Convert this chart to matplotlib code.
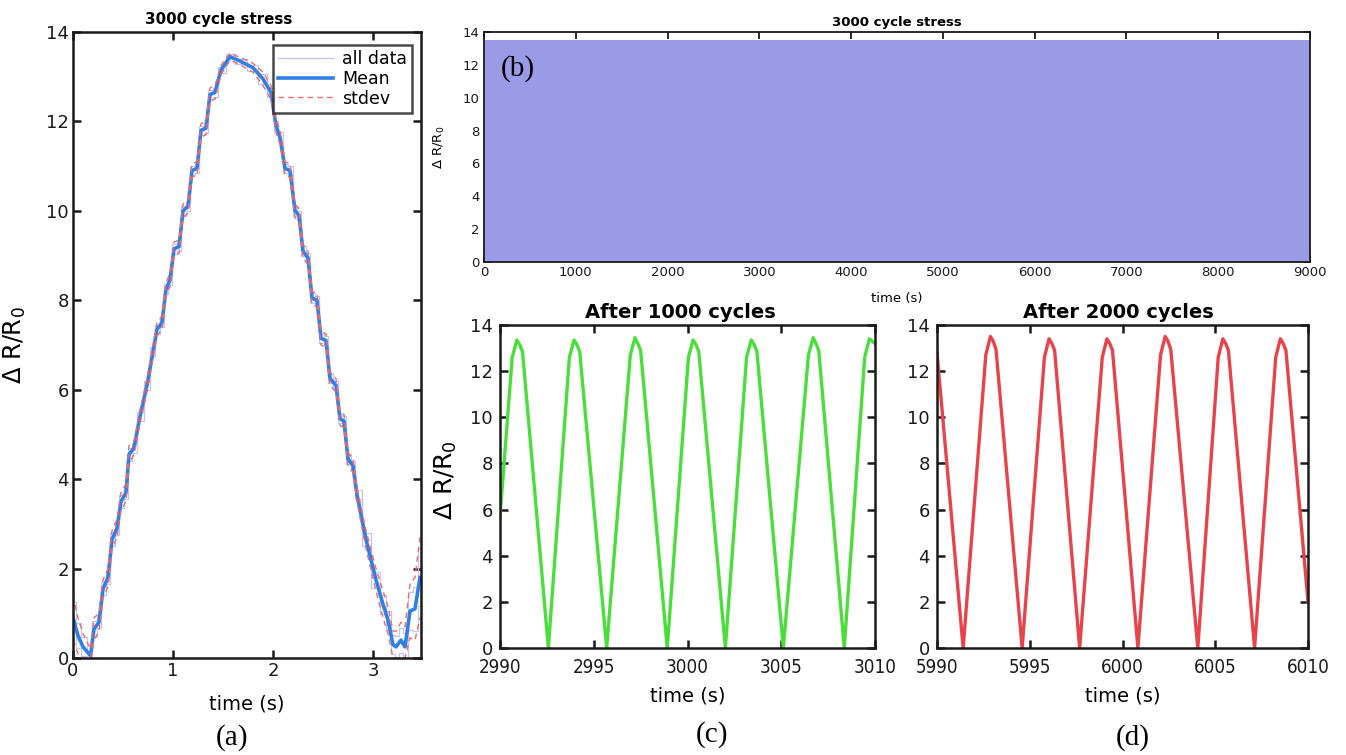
#!/usr/bin/env python3
"""Cyclic stress response: single cycle, full run, and two zoomed windows."""

import matplotlib
matplotlib.use('Agg')
import matplotlib.pyplot as plt
import numpy as np

# (a) one cycle: mean curve vertices and stdev
t_a = [0.00, 0.05, 0.10, 0.175, 0.21, 0.26, 0.30, 0.35, 0.39, 0.44, 0.48, 0.53,
       0.56, 0.61, 0.67, 0.74, 0.80, 0.84, 0.89, 0.93, 0.97, 1.01, 1.06, 1.10,
       1.15, 1.19, 1.24, 1.28, 1.33, 1.37, 1.42, 1.48, 1.57, 1.67, 1.80, 1.90,
       1.98, 2.03, 2.07, 2.12, 2.17, 2.22, 2.26, 2.30, 2.35, 2.39, 2.44, 2.48,
       2.53, 2.57, 2.63, 2.67, 2.71, 2.75, 2.80, 2.84, 2.93, 3.03, 3.10, 3.15,
       3.20, 3.23, 3.28, 3.32, 3.37, 3.42, 3.47]
mean_a = [0.90, 0.50, 0.25, 0.05, 0.65, 0.80, 1.55, 1.80, 2.65, 2.90, 3.50, 3.70,
          4.55, 4.70, 5.40, 6.10, 6.85, 7.35, 7.50, 8.25, 8.45, 9.15, 9.20, 10.00,
          10.10, 10.90, 10.95, 11.80, 11.85, 12.60, 12.65, 13.15, 13.45, 13.35, 13.20, 12.95,
          12.65, 11.90, 11.65, 10.95, 10.90, 10.00, 9.90, 9.10, 8.95, 8.05, 8.00, 7.15,
          7.10, 6.25, 6.10, 5.35, 5.30, 4.45, 4.30, 3.65, 2.65, 1.75, 1.20, 0.85,
          0.30, 0.25, 0.40, 0.25, 1.05, 1.10, 1.80]
std_a = [0.50, 0.40, 0.30, 0.15, 0.25, 0.20, 0.20, 0.20, 0.20, 0.20, 0.20, 0.20,
         0.20, 0.15, 0.15, 0.15, 0.15, 0.15, 0.15, 0.15, 0.15, 0.15, 0.15, 0.15,
         0.15, 0.15, 0.15, 0.15, 0.15, 0.15, 0.15, 0.10, 0.08, 0.08, 0.10, 0.15,
         0.15, 0.15, 0.15, 0.15, 0.15, 0.15, 0.15, 0.15, 0.15, 0.15, 0.15, 0.15,
         0.15, 0.15, 0.15, 0.15, 0.15, 0.15, 0.15, 0.15, 0.20, 0.25, 0.30, 0.30,
         0.30, 0.35, 0.40, 0.45, 0.60, 0.70, 0.90]

# (b) full run: 3000 cycles over 9000 s
n_cycles = 3000
cycle_period = 3.0

# (c) after 1000 cycles
c_t = [2990.0, 2990.65, 2990.9, 2991.05, 2991.2, 2992.58,
       2993.7, 2993.95, 2994.1, 2994.25, 2995.69,
       2996.95, 2997.2, 2997.35, 2997.5, 2998.92,
       3000.05, 3000.3, 3000.45, 3000.6, 3002.02,
       3003.15, 3003.4, 3003.55, 3003.7, 3005.11,
       3006.45, 3006.7, 3006.85, 3007.0, 3008.36,
       3009.45, 3009.7, 3010.0]
c_v = [5.7, 12.6, 13.35, 13.15, 12.85, 0.0,
       12.6, 13.35, 13.15, 12.85, 0.0,
       12.7, 13.45, 13.2, 12.9, 0.0,
       12.6, 13.35, 13.15, 12.85, 0.0,
       12.6, 13.35, 13.15, 12.85, 0.0,
       12.7, 13.45, 13.2, 12.9, 0.0,
       12.6, 13.4, 13.2]

# (d) after 2000 cycles
d_t = [5990.0, 5991.41,
       5992.63, 5992.88, 5993.03, 5993.18, 5994.59,
       5995.79, 5996.04, 5996.19, 5996.34, 5997.69,
       5998.91, 5999.16, 5999.31, 5999.46, 6000.83,
       6002.05, 6002.3, 6002.45, 6002.6, 6004.06,
       6005.16, 6005.41, 6005.56, 6005.71, 6007.12,
       6008.26, 6008.51, 6008.66, 6008.81, 6010.0]
d_v = [12.8, 0.0,
       12.7, 13.5, 13.3, 12.95, 0.0,
       12.6, 13.4, 13.2, 12.9, 0.0,
       12.6, 13.4, 13.2, 12.9, 0.0,
       12.7, 13.5, 13.3, 12.95, 0.0,
       12.6, 13.4, 13.2, 12.9, 0.0,
       12.6, 13.4, 13.2, 12.9, 2.0]

YLAB = r'$\Delta$ R/R$_0$'
W, H = 1346, 755


def box(x0, x1, y_top, y_bot):
    return [x0 / W, (H - y_bot) / H, (x1 - x0) / W, (y_bot - y_top) / H]


def matlab_axes(ax, lw=1.8, tick_len=6, size=13):
    for s in ax.spines.values():
        s.set_linewidth(lw)
        s.set_color('#1a1a1a')
    ax.tick_params(direction='in', top=True, right=True, length=tick_len,
                   width=lw, labelsize=size, colors='#1a1a1a', pad=3)


plt.rcParams['font.family'] = ['DejaVu Sans']
fig = plt.figure(figsize=(W / 100, H / 100), dpi=100)

# ---- (a)
ax1 = fig.add_axes(box(73, 421, 32, 658))
ta = np.array(t_a)
ma = np.array(mean_a)
sa = np.array(std_a)
ax1.plot(ta, ma + 0.7 * sa, color='#c4c4f2', lw=0.9, drawstyle='steps-mid', label='all data')
ax1.plot(ta, np.clip(ma - 0.7 * sa, 0, None), color='#c4c4f2', lw=0.9, drawstyle='steps-mid')
ax1.plot(ta, ma, color='#2f7fe6', lw=2.6, label='Mean')
ax1.plot(ta, ma + sa, color='#f06a6a', lw=1.0, ls=(0, (4, 3)), label='stdev')
ax1.plot(ta, np.clip(ma - sa, 0, None), color='#f06a6a', lw=1.0, ls=(0, (4, 3)))
ax1.set_xlim(0, 3.48)
ax1.set_ylim(0, 14)
ax1.set_xticks([0, 1, 2, 3])
ax1.set_yticks(range(0, 15, 2))
matlab_axes(ax1)
ax1.set_xlabel('time (s)', fontsize=14)
ax1.xaxis.set_label_coords(0.5, -0.058)
ax1.set_ylabel(YLAB, fontsize=17.5)
ax1.yaxis.set_label_coords(-0.13, 0.5)
ax1.text(0.42, 1.008, '3000 cycle stress', transform=ax1.transAxes, ha='center',
         va='bottom', fontsize=10.8, fontweight='bold')
leg = ax1.legend(loc='upper right', bbox_to_anchor=(0.985, 0.985), fontsize=12.5,
                 frameon=True, fancybox=False, handlelength=3.2, borderpad=0.3,
                 labelspacing=0.1, handletextpad=0.5, borderaxespad=0.2)
leg.get_frame().set_edgecolor('#1a1a1a')
leg.get_frame().set_linewidth(1.8)

# ---- (b)
ax2 = fig.add_axes(box(484, 1310, 32, 262))
i0 = t_a.index(0.175)
i1 = t_a.index(3.15)
cyc_t = ta[i0:i1 + 1] - ta[i0]
cyc_v = ma[i0:i1 + 1]
full_t = (cyc_t[None, :] + cycle_period * np.arange(n_cycles)[:, None]).ravel()
full_v = np.tile(cyc_v, n_cycles)
ax2.plot(full_t, full_v, color='#9a9ae6', lw=0.8)
ax2.set_xlim(0, 9000)
ax2.set_ylim(0, 14)
ax2.set_xticks(range(0, 9001, 1000))
ax2.set_yticks(range(0, 15, 2))
matlab_axes(ax2, lw=1.3, tick_len=5, size=9.5)
ax2.set_xlabel('time (s)', fontsize=9.5)
ax2.xaxis.set_label_coords(0.5, -0.13)
ax2.set_ylabel(YLAB, fontsize=9.5)
ax2.yaxis.set_label_coords(-0.045, 0.5)
ax2.set_title('3000 cycle stress', fontsize=9.5, fontweight='bold', pad=4)
ax2.text(0.02, 0.84, '(b)', transform=ax2.transAxes, fontsize=21,
         family='Liberation Serif', va='center')

# ---- (c)
ax3 = fig.add_axes(box(500, 875, 325, 648))
ax3.plot(c_t, c_v, color='#4ade3a', lw=2.4)
ax3.set_xlim(2990, 3010)
ax3.set_ylim(0, 14)
ax3.set_xticks([2990, 2995, 3000, 3005, 3010])
ax3.set_yticks(range(0, 15, 2))
matlab_axes(ax3, size=13)
ax3.tick_params(axis='x', labelsize=13.5, pad=7)
ax3.tick_params(axis='y', pad=5)
ax3.set_xlabel('time (s)', fontsize=14)
ax3.xaxis.set_label_coords(0.5, -0.12)
ax3.set_ylabel(YLAB, fontsize=18)
ax3.yaxis.set_label_coords(-0.11, 0.52)
ax3.text(0.48, 1.01, 'After 1000 cycles', transform=ax3.transAxes, ha='center',
         va='bottom', fontsize=14, fontweight='bold')

# ---- (d)
ax4 = fig.add_axes(box(937, 1308, 325, 648))
ax4.plot(d_t, d_v, color='#e8434b', lw=2.4)
ax4.set_xlim(5990, 6010)
ax4.set_ylim(0, 14)
ax4.set_xticks([5990, 5995, 6000, 6005, 6010])
ax4.set_yticks(range(0, 15, 2))
matlab_axes(ax4, size=13)
ax4.tick_params(axis='x', labelsize=13.5, pad=7)
ax4.tick_params(axis='y', pad=5)
ax4.set_xlabel('time (s)', fontsize=14)
ax4.xaxis.set_label_coords(0.5, -0.12)
ax4.text(0.49, 1.01, 'After 2000 cycles', transform=ax4.transAxes, ha='center',
         va='bottom', fontsize=14, fontweight='bold')

for ax in (ax3, ax4):
    for lbl in ax.get_xticklabels():
        lbl.set_fontstretch('condensed')

# panel letters
for x, y, s in [(232, 738, '(a)'), (712, 735, '(c)'), (1133, 738, '(d)')]:
    fig.text(x / W, 1 - y / H, s, ha='center', va='center', fontsize=21,
             family='Liberation Serif')

fig.savefig('out.png', dpi=100)
plt.close(fig)
